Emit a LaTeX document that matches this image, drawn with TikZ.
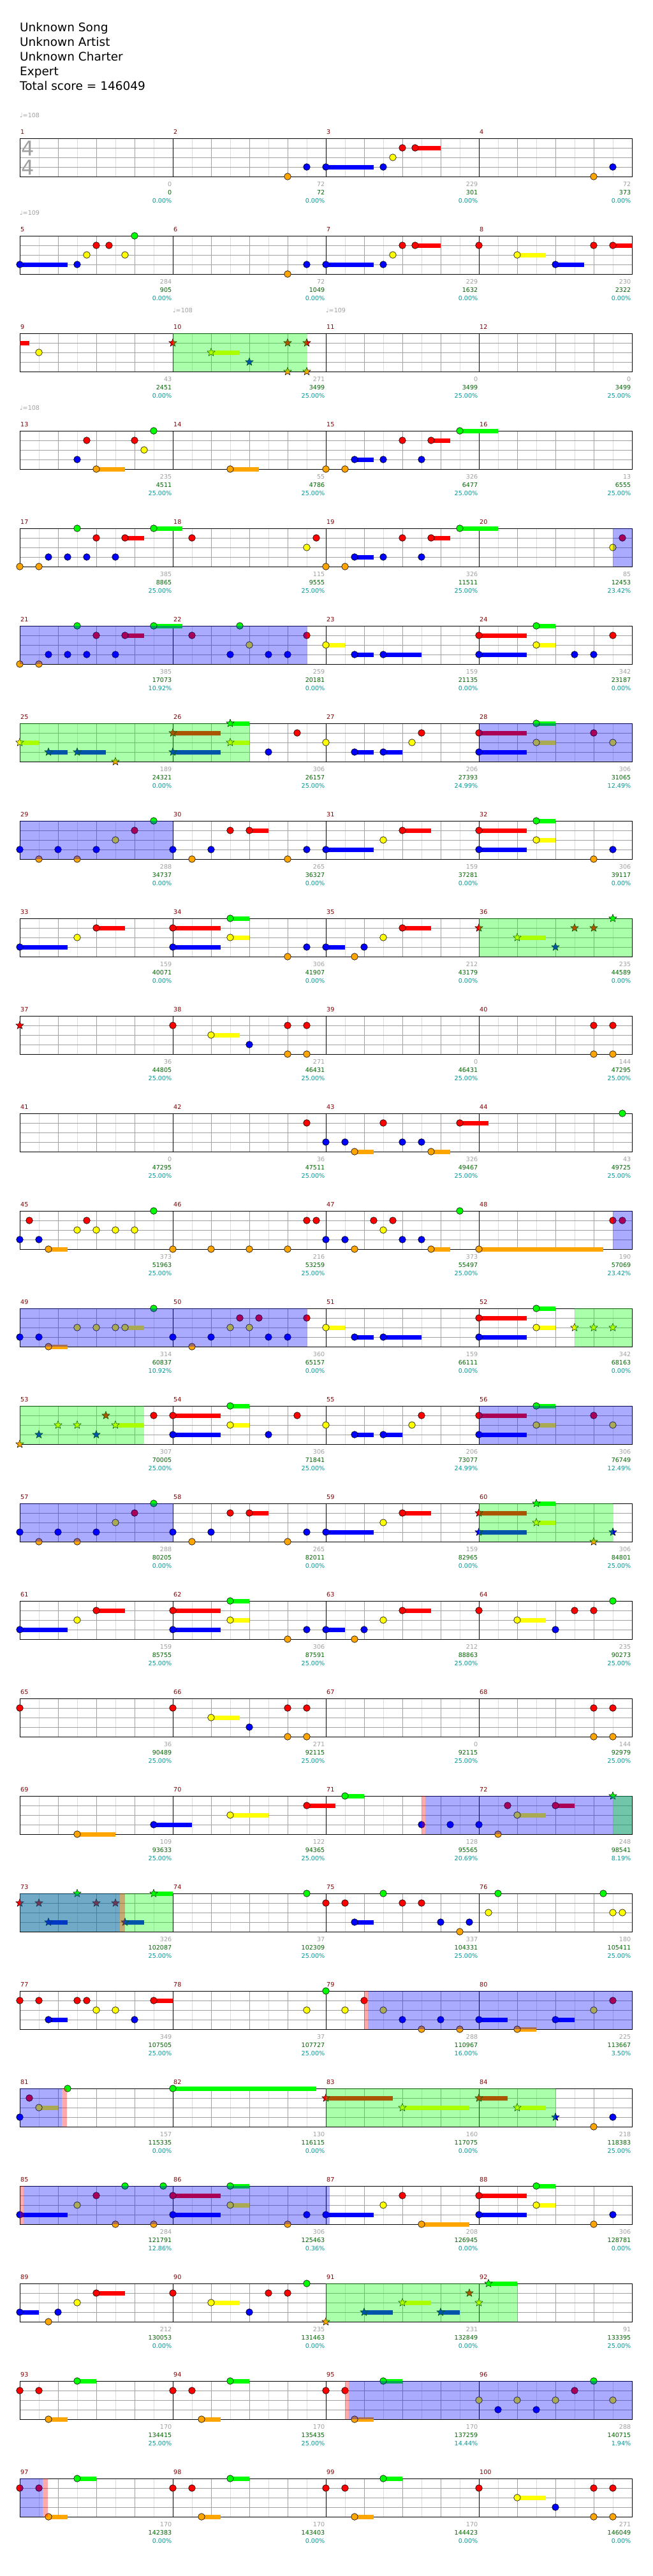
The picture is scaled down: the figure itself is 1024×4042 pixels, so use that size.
\documentclass[tikz,border=0pt]{standalone}
\usepackage{fontspec}
\setmainfont{DejaVu Sans}
\usetikzlibrary{shapes.geometric}
\definecolor{gemG}{HTML}{00FF00}
\definecolor{gemR}{HTML}{FF0000}
\definecolor{gemY}{HTML}{FFFF00}
\definecolor{gemB}{HTML}{0000FF}
\definecolor{gemO}{HTML}{FFA500}
\definecolor{gridmid}{HTML}{A0A0A0}
\definecolor{gridlight}{HTML}{DCDCDC}
\definecolor{measred}{HTML}{800000}
\definecolor{gaingray}{HTML}{A0A0A0}
\definecolor{totalgreen}{HTML}{006400}
\definecolor{pctteal}{HTML}{009696}
\newcommand{\lblfont}{\fontsize{9.6}{11}\selectfont}
\def\laneG{0}\def\laneR{15}\def\laneY{30}\def\laneB{45}\def\laneO{60}
\newcounter{gemno}
\newcommand{\gem}[2]{\stepcounter{gemno}%
  \node[gem, fill=gem#1] (gem\arabic{gemno}) at ({15*#2},\csname lane#1\endcsname) {};}
\newcommand{\sustail}[3]{\fill[gem#1] ({15*#2},{\csname lane#1\endcsname-3.5}) rectangle ({15*#3},{\csname lane#1\endcsname+3.5});}
\newcommand{\gemsus}[3]{\sustail{#1}{#2}{#3}\gem{#1}{#2}}
\newcommand{\spgem}[2]{\stepcounter{gemno}%
  \node[spgem, fill=gem#1] (star\arabic{gemno}) at ({15*#2},\csname lane#1\endcsname) {};}
\newcommand{\spsus}[3]{\sustail{#1}{#2}{#3}\spgem{#1}{#2}}
\newcommand{\spphrase}[2]{\fill[phrase] ({15*#1},0) rectangle ({15*#2},60);}
\newcommand{\spactive}[2]{\fill[active] ({15*#1},0) rectangle ({15*#2},60);}
\newcommand{\spmark}[2]{\fill[markstripe] ({15*#1},0) rectangle ({15*#2},60);}
\tikzset{
  staff/.style     ={draw=black, line width=1pt},
  barline/.style   ={draw=black, line width=0.8pt},
  beatline/.style  ={draw=gridmid, line width=0.8pt},
  halfline/.style  ={draw=gridlight, line width=0.8pt},
  laneline/.style  ={draw=gridmid, line width=1pt},
  gem/.style       ={circle, draw=black, line width=0.6pt, minimum size=10.6pt, inner sep=0pt},
  spgem/.style     ={star, star points=5, star point ratio=2.3, draw=black, line width=0.5pt,
                     minimum size=13pt, inner sep=0pt},
  phrase/.style    ={fill=gemG, fill opacity=0.333},
  active/.style    ={fill=gemB, fill opacity=0.333},
  markstripe/.style={fill=gemR, fill opacity=0.333},
  title/.style     ={anchor=base west, inner sep=0pt, font=\fontsize{18.5}{22}\selectfont},
  tempo/.style     ={anchor=west, inner sep=0pt, text=gaingray, font=\lblfont},
  timesig/.style   ={inner sep=0pt, text=gaingray, font=\fontsize{32}{32}\selectfont},
  measno/.style    ={anchor=west, inner sep=0pt, text=measred, font=\lblfont},
  gain/.style      ={anchor=east, inner sep=0pt, text=gaingray, font=\lblfont},
  total/.style     ={anchor=east, inner sep=0pt, text=totalgreen, font=\lblfont},
  spbar/.style     ={anchor=east, inner sep=0pt, text=pctteal, font=\lblfont},
}
\begin{document}
\begin{tikzpicture}[x=1pt, y=-1pt]
  \fill[white] (0,0) rectangle (1024,4042);
  \useasboundingbox (0,0) rectangle (1024,4042);

  % header
  \foreach \t [count=\n] in {Unknown Song, Unknown Artist, Unknown Charter, Expert, Total score = 146049}
    \node[title] (title\n) at (31,{26.3+23*\n}) {\t};

  % staves
  \foreach \row in {0,...,24} {
    \begin{scope}[shift={(31,{217+153*\row})}]
      \foreach \x in {30,90,...,930} \draw[halfline] (\x,0) -- (\x,60);
      \foreach \x in {60,120,...,900} \draw[beatline] (\x,0) -- (\x,60);
      \foreach \y in {15,30,45} \draw[laneline] (0,\y) -- (960,\y);
      \foreach \x in {240,480,720} \draw[barline] (\x,0) -- (\x,60);
      \draw[staff] (0,0) rectangle (960,60);
    \end{scope}
  }

  % measure numbers and scores
  \foreach \m/\ga/\sc/\pc [count=\i from 0] in {
    1/0/0/0.00, 2/72/72/0.00, 3/229/301/0.00, 4/72/373/0.00,
    5/284/905/0.00, 6/72/1049/0.00, 7/229/1632/0.00, 8/230/2322/0.00,
    9/43/2451/0.00, 10/271/3499/25.00, 11/0/3499/25.00, 12/0/3499/25.00,
    13/235/4511/25.00, 14/55/4786/25.00, 15/326/6477/25.00, 16/13/6555/25.00,
    17/385/8865/25.00, 18/115/9555/25.00, 19/326/11511/25.00, 20/85/12453/23.42,
    21/385/17073/10.92, 22/259/20181/0.00, 23/159/21135/0.00, 24/342/23187/0.00,
    25/189/24321/0.00, 26/306/26157/25.00, 27/206/27393/24.99, 28/306/31065/12.49,
    29/288/34737/0.00, 30/265/36327/0.00, 31/159/37281/0.00, 32/306/39117/0.00,
    33/159/40071/0.00, 34/306/41907/0.00, 35/212/43179/0.00, 36/235/44589/0.00,
    37/36/44805/25.00, 38/271/46431/25.00, 39/0/46431/25.00, 40/144/47295/25.00,
    41/0/47295/25.00, 42/36/47511/25.00, 43/326/49467/25.00, 44/43/49725/25.00,
    45/373/51963/25.00, 46/216/53259/25.00, 47/373/55497/25.00, 48/190/57069/23.42,
    49/314/60837/10.92, 50/360/65157/0.00, 51/159/66111/0.00, 52/342/68163/0.00,
    53/307/70005/25.00, 54/306/71841/25.00, 55/206/73077/24.99, 56/306/76749/12.49,
    57/288/80205/0.00, 58/265/82011/0.00, 59/159/82965/0.00, 60/306/84801/25.00,
    61/159/85755/25.00, 62/306/87591/25.00, 63/212/88863/25.00, 64/235/90273/25.00,
    65/36/90489/25.00, 66/271/92115/25.00, 67/0/92115/25.00, 68/144/92979/25.00,
    69/109/93633/25.00, 70/122/94365/25.00, 71/128/95565/20.69, 72/248/98541/8.19,
    73/326/102087/25.00, 74/37/102309/25.00, 75/337/104331/25.00, 76/180/105411/25.00,
    77/349/107505/25.00, 78/37/107727/25.00, 79/288/110967/16.00, 80/225/113667/3.50,
    81/157/115335/0.00, 82/130/116115/0.00, 83/160/117075/0.00, 84/218/118383/25.00,
    85/284/121791/12.86, 86/306/125463/0.36, 87/208/126945/0.00, 88/306/128781/0.00,
    89/212/130053/0.00, 90/235/131463/0.00, 91/231/132849/0.00, 92/91/133395/25.00,
    93/170/134415/25.00, 94/170/135435/25.00, 95/170/137259/14.44, 96/288/140715/1.94,
    97/170/142383/0.00, 98/170/143403/0.00, 99/170/144423/0.00, 100/271/146049/0.00} {
    \pgfmathtruncatemacro{\col}{mod(\i,4)}
    \pgfmathtruncatemacro{\row}{div(\i,4)}
    \pgfmathsetmacro{\xa}{31+240*\col}
    \pgfmathsetmacro{\ty}{217+153*\row}
    \node[measno] (mno\m) at (\xa+1,\ty-10) {\m};
    \node[gain] (gain\m) at (\xa+238.5,\ty+72) {\ga};
    \node[total] (total\m) at (\xa+238.5,\ty+85) {\sc};
    \node[spbar] (spbar\m) at (\xa+238.5,\ty+98) {\pc\%};
  }

  % tempo and time signature
  \node[tempo] (tempo1) at (31,181) {♩=108};
  \node[tempo] (tempo2) at (31,334) {♩=109};
  \node[tempo] (tempo3) at (271,487) {♩=108};
  \node[tempo] (tempo4) at (511,487) {♩=109};
  \node[tempo] (tempo5) at (31,640) {♩=108};
  \node[timesig] (tsig1) at (44,233) {4};
  \node[timesig] (tsig2) at (44,263) {4};

  % 1-4
  \begin{scope}[shift={(31,217)}]
    \gem{O}{28} \gem{B}{30} \gemsus{B}{32}{37} \gem{B}{38} \gem{Y}{39} \gem{R}{40}
    \gemsus{R}{41.33}{44} \gem{O}{60} \gem{B}{62}
  \end{scope}
  % 5-8
  \begin{scope}[shift={(31,370)}]
    \gemsus{B}{0}{5} \gem{B}{6} \gem{Y}{7} \gem{R}{8} \gem{R}{9.33} \gem{Y}{11} \gem{G}{12}
    \gem{O}{28} \gem{B}{30} \gemsus{B}{32}{37} \gem{B}{38} \gem{Y}{39} \gem{R}{40}
    \gemsus{R}{41.33}{44} \gem{R}{48} \gemsus{Y}{52}{55} \gemsus{B}{56}{59} \gem{R}{60}
    \gemsus{R}{62}{64}
  \end{scope}
  % 9-12
  \begin{scope}[shift={(31,523)}]
    \sustail{R}{0}{1} \gem{Y}{2}
    \spgem{R}{16} \spsus{Y}{20}{23} \spgem{B}{24} \spgem{R}{28} \spgem{O}{28}
    \spgem{R}{30} \spgem{O}{30}
    \spphrase{16}{30}
  \end{scope}
  % 13-16
  \begin{scope}[shift={(31,676)}]
    \gem{B}{6} \gem{R}{7} \gemsus{O}{8}{11} \gem{R}{12} \gem{Y}{13} \gem{G}{14}
    \gemsus{O}{22}{25} \gem{O}{32} \gem{O}{34} \gemsus{B}{35}{37} \gem{B}{38} \gem{R}{40}
    \gem{B}{42} \gemsus{R}{43}{45} \gemsus{G}{46}{50}
  \end{scope}
  % 17-20
  \begin{scope}[shift={(31,829)}]
    \gem{O}{0} \gem{O}{2} \gem{B}{3} \gem{B}{5} \gem{G}{6} \gem{B}{7} \gem{R}{8} \gem{B}{10}
    \gemsus{R}{11}{13} \gemsus{G}{14}{17} \gem{R}{18} \gem{Y}{30} \gem{R}{31} \gem{O}{32}
    \gem{O}{34} \gemsus{B}{35}{37} \gem{B}{38} \gem{R}{40} \gem{B}{42} \gemsus{R}{43}{45}
    \gemsus{G}{46}{50} \gem{Y}{62} \gem{R}{63}
    \spactive{62}{64}
  \end{scope}
  % 21-24
  \begin{scope}[shift={(31,982)}]
    \gem{O}{0} \gem{O}{2} \gem{B}{3} \gem{B}{5} \gem{G}{6} \gem{B}{7} \gem{R}{8} \gem{B}{10}
    \gemsus{R}{11}{13} \gemsus{G}{14}{17} \gem{R}{18} \gem{B}{22} \gem{G}{23} \gem{Y}{24}
    \gem{B}{26} \gem{B}{28} \gem{R}{30} \gemsus{Y}{32}{34} \gemsus{B}{35}{37}
    \gemsus{B}{38}{42} \gemsus{R}{48}{53} \gemsus{B}{48}{53} \gemsus{G}{54}{56}
    \gemsus{Y}{54}{56} \gem{B}{58} \gem{B}{60} \gem{R}{62}
    \spactive{0}{30} \spmark{30}{30.07}
  \end{scope}
  % 25-28
  \begin{scope}[shift={(31,1135)}]
    \spsus{Y}{0}{2} \spsus{B}{3}{5} \spsus{B}{6}{9} \spgem{O}{10} \spsus{R}{16}{21}
    \spsus{B}{16}{21} \spsus{G}{22}{24} \spsus{Y}{22}{24} \gem{B}{26} \gem{R}{29}
    \gem{Y}{32} \gemsus{B}{35}{37} \gemsus{B}{38}{40} \gem{Y}{41} \gem{R}{42}
    \gemsus{R}{48}{53} \gemsus{B}{48}{53} \gemsus{G}{54}{56} \gemsus{Y}{54}{56}
    \gem{R}{60} \gem{Y}{62}
    \spphrase{0}{24} \spactive{48}{64}
  \end{scope}
  % 29-32
  \begin{scope}[shift={(31,1288)}]
    \gem{B}{0} \gem{O}{2} \gem{B}{4} \gem{O}{6} \gem{B}{8} \gem{Y}{10} \gem{R}{12} \gem{G}{14}
    \gem{B}{16} \gem{O}{18} \gem{B}{20} \gem{R}{22} \gemsus{R}{24}{26} \gem{O}{28} \gem{B}{30}
    \gemsus{B}{32}{37} \gem{Y}{38} \gemsus{R}{40}{43} \gemsus{R}{48}{53} \gemsus{B}{48}{53}
    \gemsus{G}{54}{56} \gemsus{Y}{54}{56} \gem{O}{60} \gem{B}{62}
    \spactive{0}{16}
  \end{scope}
  % 33-36
  \begin{scope}[shift={(31,1441)}]
    \gemsus{B}{0}{5} \gem{Y}{6} \gemsus{R}{8}{11} \gemsus{R}{16}{21} \gemsus{B}{16}{21}
    \gemsus{G}{22}{24} \gemsus{Y}{22}{24} \gem{O}{28} \gem{B}{30} \gemsus{B}{32}{34}
    \gem{O}{35} \gem{B}{36} \gem{Y}{38} \gemsus{R}{40}{43} \spgem{R}{48} \spsus{Y}{52}{55}
    \spgem{B}{56} \spgem{R}{58} \spgem{R}{60} \spgem{G}{62}
    \spphrase{48}{64}
  \end{scope}
  % 37-40
  \begin{scope}[shift={(31,1594)}]
    \spgem{R}{0} \gem{R}{16} \gemsus{Y}{20}{23} \gem{B}{24} \gem{R}{28} \gem{O}{28}
    \gem{R}{30} \gem{O}{30} \gem{R}{60} \gem{O}{60} \gem{R}{62} \gem{O}{62}
  \end{scope}
  % 41-44
  \begin{scope}[shift={(31,1747)}]
    \gem{R}{30} \gem{B}{32} \gem{B}{34} \gemsus{O}{35}{37} \gem{R}{38} \gem{B}{40}
    \gem{B}{42} \gemsus{O}{43}{45} \gemsus{R}{46}{49} \gem{G}{63}
  \end{scope}
  % 45-48
  \begin{scope}[shift={(31,1900)}]
    \gem{B}{0} \gem{R}{1} \gem{B}{2} \gemsus{O}{3}{5} \gem{Y}{6} \gem{R}{7} \gem{Y}{8}
    \gem{Y}{10} \gem{Y}{12} \gem{G}{14} \gem{O}{16} \gem{O}{20} \gem{O}{24} \gem{O}{28}
    \gem{R}{30} \gem{R}{31} \gem{B}{32} \gem{B}{34} \gem{O}{35} \gem{R}{37} \gem{Y}{38}
    \gem{R}{39} \gem{B}{40} \gem{B}{42} \gemsus{O}{43}{45} \gem{G}{46} \gemsus{O}{48}{61}
    \gem{R}{62} \gem{R}{63}
    \spactive{62}{64}
  \end{scope}
  % 49-52
  \begin{scope}[shift={(31,2053)}]
    \gem{B}{0} \gem{B}{2} \gemsus{O}{3}{5} \gem{Y}{6} \gem{Y}{8} \gem{Y}{10} \gemsus{Y}{11}{13}
    \gem{G}{14} \gem{B}{16} \gem{O}{18} \gem{B}{20} \gem{Y}{22} \gem{R}{23} \gem{Y}{24}
    \gem{R}{25} \gem{B}{26} \gem{B}{28} \gem{R}{30} \gemsus{Y}{32}{34} \gemsus{B}{35}{37}
    \gemsus{B}{38}{42} \gemsus{R}{48}{53} \gemsus{B}{48}{53} \gemsus{G}{54}{56}
    \gemsus{Y}{54}{56} \spgem{Y}{58} \spgem{Y}{60} \spgem{Y}{62}
    \spactive{0}{30} \spmark{30}{30.07} \spphrase{58}{64}
  \end{scope}
  % 53-56
  \begin{scope}[shift={(31,2206)}]
    \spgem{O}{0} \spgem{B}{2} \spgem{Y}{4} \spgem{Y}{6} \spgem{B}{8} \spgem{R}{9}
    \spsus{Y}{10}{13} \gem{R}{14} \gemsus{R}{16}{21} \gemsus{B}{16}{21} \gemsus{G}{22}{24}
    \gemsus{Y}{22}{24} \gem{B}{26} \gem{R}{29} \gem{Y}{32} \gemsus{B}{35}{37}
    \gemsus{B}{38}{40} \gem{Y}{41} \gem{R}{42} \gemsus{R}{48}{53} \gemsus{B}{48}{53}
    \gemsus{G}{54}{56} \gemsus{Y}{54}{56} \gem{R}{60} \gem{Y}{62}
    \spphrase{0}{13} \spactive{48}{64}
  \end{scope}
  % 57-60
  \begin{scope}[shift={(31,2359)}]
    \gem{B}{0} \gem{O}{2} \gem{B}{4} \gem{O}{6} \gem{B}{8} \gem{Y}{10} \gem{R}{12} \gem{G}{14}
    \gem{B}{16} \gem{O}{18} \gem{B}{20} \gem{R}{22} \gemsus{R}{24}{26} \gem{O}{28} \gem{B}{30}
    \gemsus{B}{32}{37} \gem{Y}{38} \gemsus{R}{40}{43} \spsus{R}{48}{53} \spsus{B}{48}{53}
    \spsus{G}{54}{56} \spsus{Y}{54}{56} \spgem{O}{60} \spgem{B}{62}
    \spactive{0}{16} \spmark{16}{16.07} \spphrase{48}{62}
  \end{scope}
  % 61-64
  \begin{scope}[shift={(31,2512)}]
    \gemsus{B}{0}{5} \gem{Y}{6} \gemsus{R}{8}{11} \gemsus{R}{16}{21} \gemsus{B}{16}{21}
    \gemsus{G}{22}{24} \gemsus{Y}{22}{24} \gem{O}{28} \gem{B}{30} \gemsus{B}{32}{34}
    \gem{O}{35} \gem{B}{36} \gem{Y}{38} \gemsus{R}{40}{43} \gem{R}{48} \gemsus{Y}{52}{55}
    \gem{B}{56} \gem{R}{58} \gem{R}{60} \gem{G}{62}
  \end{scope}
  % 65-68
  \begin{scope}[shift={(31,2665)}]
    \gem{R}{0} \gem{R}{16} \gemsus{Y}{20}{23} \gem{B}{24} \gem{R}{28} \gem{O}{28}
    \gem{R}{30} \gem{O}{30} \gem{R}{60} \gem{O}{60} \gem{R}{62} \gem{O}{62}
  \end{scope}
  % 69-72
  \begin{scope}[shift={(31,2818)}]
    \gemsus{O}{6}{10} \gemsus{B}{14}{18} \gemsus{Y}{22}{26} \gemsus{R}{30}{33}
    \gemsus{G}{34}{36} \gem{B}{42} \gem{B}{45} \gem{B}{48} \gem{O}{50} \gem{R}{51}
    \gemsus{Y}{52}{55} \gemsus{R}{56}{58} \spgem{G}{62}
    \spmark{42}{42.4} \spactive{42.4}{64} \spphrase{62}{64}
  \end{scope}
  % 73-76
  \begin{scope}[shift={(31,2971)}]
    \spgem{R}{0} \spgem{R}{2} \spsus{B}{3}{5} \spgem{G}{6} \spgem{R}{8} \spgem{R}{10}
    \spsus{B}{11}{13} \spsus{G}{14}{16} \gem{G}{30} \gem{R}{32} \gem{R}{34}
    \gemsus{B}{35}{37} \gem{G}{38} \gem{R}{40} \gem{R}{42} \gem{B}{44} \gem{O}{46}
    \gem{B}{47} \gem{Y}{49} \gem{G}{50} \gem{G}{61} \gem{Y}{62} \gem{Y}{63}
    \spphrase{0}{16} \spactive{0}{10.45} \spmark{10.45}{11}
  \end{scope}
  % 77-80
  \begin{scope}[shift={(31,3124)}]
    \gem{R}{0} \gem{R}{2} \gemsus{B}{3}{5} \gem{R}{6} \gem{R}{7} \gem{Y}{8} \gem{Y}{10}
    \gem{B}{12} \gemsus{R}{14}{16} \gem{Y}{30} \gem{G}{32} \gem{Y}{34} \gem{R}{36}
    \gem{Y}{38} \gem{B}{40} \gem{O}{42} \gem{B}{44} \gem{O}{46} \gemsus{B}{48}{51}
    \gemsus{O}{52}{54} \gemsus{B}{56}{58} \gem{Y}{60} \gem{R}{62}
    \spmark{36}{36.4} \spactive{36.4}{64}
  \end{scope}
  % 81-84
  \begin{scope}[shift={(31,3277)}]
    \gem{B}{0} \gem{R}{1} \gemsus{Y}{2}{4} \gem{G}{5} \gemsus{G}{16}{31} \spsus{R}{32}{39}
    \spsus{Y}{40}{47} \spsus{R}{48}{51} \spsus{Y}{52}{55} \spgem{B}{56} \gem{O}{60}
    \gem{B}{62}
    \spactive{0}{4.4} \spmark{4.4}{4.95} \spphrase{32}{56}
  \end{scope}
  % 85-88
  \begin{scope}[shift={(31,3430)}]
    \gemsus{B}{0}{5} \gem{Y}{6} \gem{R}{8} \gem{O}{10} \gem{G}{11} \gem{O}{14} \gem{G}{15}
    \gemsus{R}{16}{21} \gemsus{B}{16}{21} \gemsus{G}{22}{24} \gemsus{Y}{22}{24} \gem{O}{28}
    \gem{B}{30} \gemsus{B}{32}{37} \gem{Y}{38} \gem{R}{40} \gemsus{O}{42}{47}
    \gemsus{R}{48}{53} \gemsus{B}{48}{53} \gemsus{G}{54}{56} \gemsus{Y}{54}{56}
    \gem{O}{60} \gem{B}{62}
    \spmark{0}{0.4} \spactive{0.4}{32.4}
  \end{scope}
  % 89-92
  \begin{scope}[shift={(31,3583)}]
    \gemsus{B}{0}{2} \gem{O}{3} \gem{B}{4} \gem{Y}{6} \gemsus{R}{8}{11} \gem{R}{16}
    \gemsus{Y}{20}{23} \gem{B}{24} \gem{R}{26} \gem{R}{28} \gem{G}{30} \spgem{O}{32}
    \spsus{B}{36}{39} \spsus{Y}{40}{43} \spsus{B}{44}{46} \spgem{R}{47} \spgem{Y}{48}
    \spsus{G}{49}{52}
    \spphrase{32}{52}
  \end{scope}
  % 93-96
  \begin{scope}[shift={(31,3736)}]
    \gem{R}{0} \gem{R}{2} \gemsus{O}{3}{5} \gemsus{G}{6}{8} \gem{R}{16} \gem{R}{18}
    \gemsus{O}{19}{21} \gemsus{G}{22}{24} \gem{R}{32} \gem{R}{34} \gemsus{O}{35}{37}
    \gemsus{G}{38}{40} \gem{Y}{48} \gem{B}{50} \gem{Y}{52} \gem{B}{54} \gem{Y}{56}
    \gem{R}{58} \gem{G}{60} \gem{Y}{62}
    \spmark{34}{34.4} \spactive{34.4}{64}
  \end{scope}
  % 97-100
  \begin{scope}[shift={(31,3889)}]
    \gem{R}{0} \gem{R}{2} \gemsus{O}{3}{5} \gemsus{G}{6}{8} \gem{R}{16} \gem{R}{18}
    \gemsus{O}{19}{21} \gemsus{G}{22}{24} \gem{R}{32} \gem{R}{34} \gemsus{O}{35}{37}
    \gemsus{G}{38}{40} \gem{R}{48} \gemsus{Y}{52}{55} \gem{B}{56} \gem{R}{60} \gem{O}{60}
    \gem{R}{62} \gem{O}{62}
    \spactive{0}{2.4} \spmark{2.4}{2.9}
  \end{scope}
\end{tikzpicture}
\end{document}
